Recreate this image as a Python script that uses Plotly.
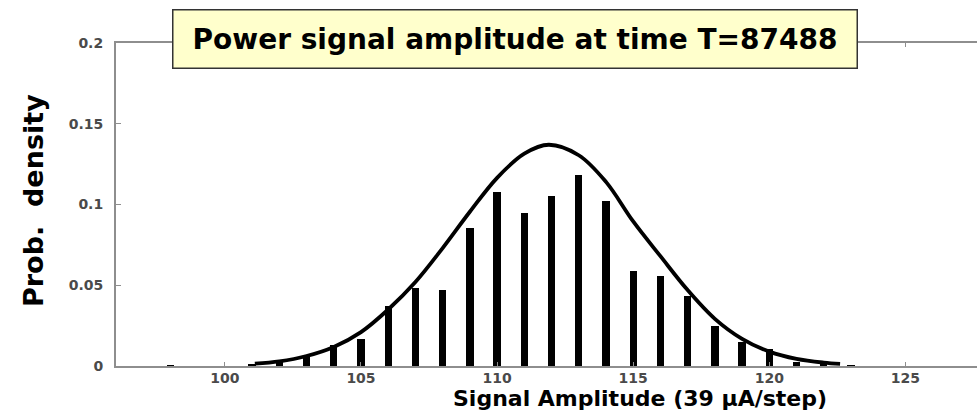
import plotly.graph_objects as go

# Histogram of the sampled power-signal amplitude (probability per step)
amplitude = [98, 101, 102, 103, 104, 105, 106, 107, 108, 109, 110, 111, 112,
             113, 114, 115, 116, 117, 118, 119, 120, 121, 122, 123]
density = [0.0004, 0.0008, 0.0033, 0.0062, 0.013, 0.0167, 0.037, 0.048, 0.047,
           0.0857, 0.108, 0.0945, 0.1055, 0.118, 0.1024, 0.0588, 0.0557, 0.0433,
           0.0248, 0.015, 0.0103, 0.0027, 0.0017, 0.0004]

# Fitted normal envelope, sampled along the amplitude axis
fit_x = [101.1, 102, 103, 104, 105, 106, 107, 108, 109, 110, 111, 111.9,
         113, 114, 115, 116, 117, 118, 119, 120, 121, 122, 122.6]
fit_y = [0.0015, 0.0029, 0.0062, 0.0118, 0.021, 0.035, 0.052, 0.073, 0.0955,
         0.1165, 0.1315, 0.137, 0.1305, 0.114, 0.0895, 0.068, 0.047, 0.0292,
         0.0168, 0.0089, 0.0044, 0.0021, 0.0013]

x_ticks = [100, 105, 110, 115, 120, 125]
y_ticks = [0, 0.05, 0.1, 0.15, 0.2]
y_tick_text = ["0", "0.05", "0.1", "0.15", "0.2"]

title_text = "Power signal amplitude at time T=87488"
x_title = "Signal Amplitude (39 µA/step)"
y_title = "Prob.  density"

W, H = 977, 412
L, R, T, B = 116, 0, 43, 46
pw, ph = W - L - R, H - T - B

def px_to_paper(px, py):
    return (px - L) / pw, (H - B - py) / ph

fig = go.Figure()
fig.add_trace(go.Bar(x=amplitude, y=density, width=0.27,
                     marker=dict(color="black", line=dict(width=0))))
fig.add_trace(go.Scatter(x=fit_x, y=fit_y, mode="lines",
                         line=dict(color="black", width=3.8, shape="spline",
                                   smoothing=1.0)))

axis_grey = "#8e8e8e"
tick_font = dict(family="DejaVu Sans", size=14, color="#4a4a4a", weight="bold")

fig.update_xaxes(range=[96, 127.63], tickmode="array", tickvals=x_ticks,
                 ticks="inside", ticklen=4, tickwidth=1, tickcolor=axis_grey,
                 showline=True, linecolor=axis_grey, linewidth=1.5,
                 mirror="ticks", showgrid=False, zeroline=False,
                 tickfont=tick_font, ticklabelstandoff=-2)
fig.update_yaxes(range=[0, 0.2], tickmode="array", tickvals=y_ticks,
                 ticktext=y_tick_text, ticks="inside", ticklen=5, tickwidth=1,
                 tickcolor=axis_grey, showline=True, linecolor=axis_grey,
                 linewidth=2, showgrid=False, zeroline=False,
                 tickfont=tick_font, ticklabelstandoff=8)

tx, ty = px_to_paper(514.5, 38.5)
xx, xy = px_to_paper(640, 398.5)
yx, yy = px_to_paper(33, 201)

fig.update_layout(
    width=W, height=H,
    margin=dict(l=L, r=R, t=T, b=B, pad=0),
    paper_bgcolor="white", plot_bgcolor="white",
    showlegend=False, bargap=0,
    annotations=[
        dict(text=title_text, xref="paper", yref="paper", x=tx, y=ty,
             xanchor="center", yanchor="middle", showarrow=False,
             width=683, height=57, bgcolor="#FFFFCC", bordercolor="#333333",
             borderwidth=1.5, borderpad=0,
             font=dict(family="DejaVu Sans", size=28, color="black",
                       weight="bold")),
        dict(text=x_title, xref="paper", yref="paper", x=xx, y=xy,
             xanchor="center", yanchor="middle", showarrow=False,
             font=dict(family="DejaVu Sans", size=22, color="black",
                       weight="bold")),
        dict(text=y_title, xref="paper", yref="paper", x=yx, y=yy,
             xanchor="center", yanchor="middle", showarrow=False,
             textangle=-90,
             font=dict(family="DejaVu Sans", size=27, color="black",
                       weight="bold")),
    ],
)

fig.write_html("out.html")
